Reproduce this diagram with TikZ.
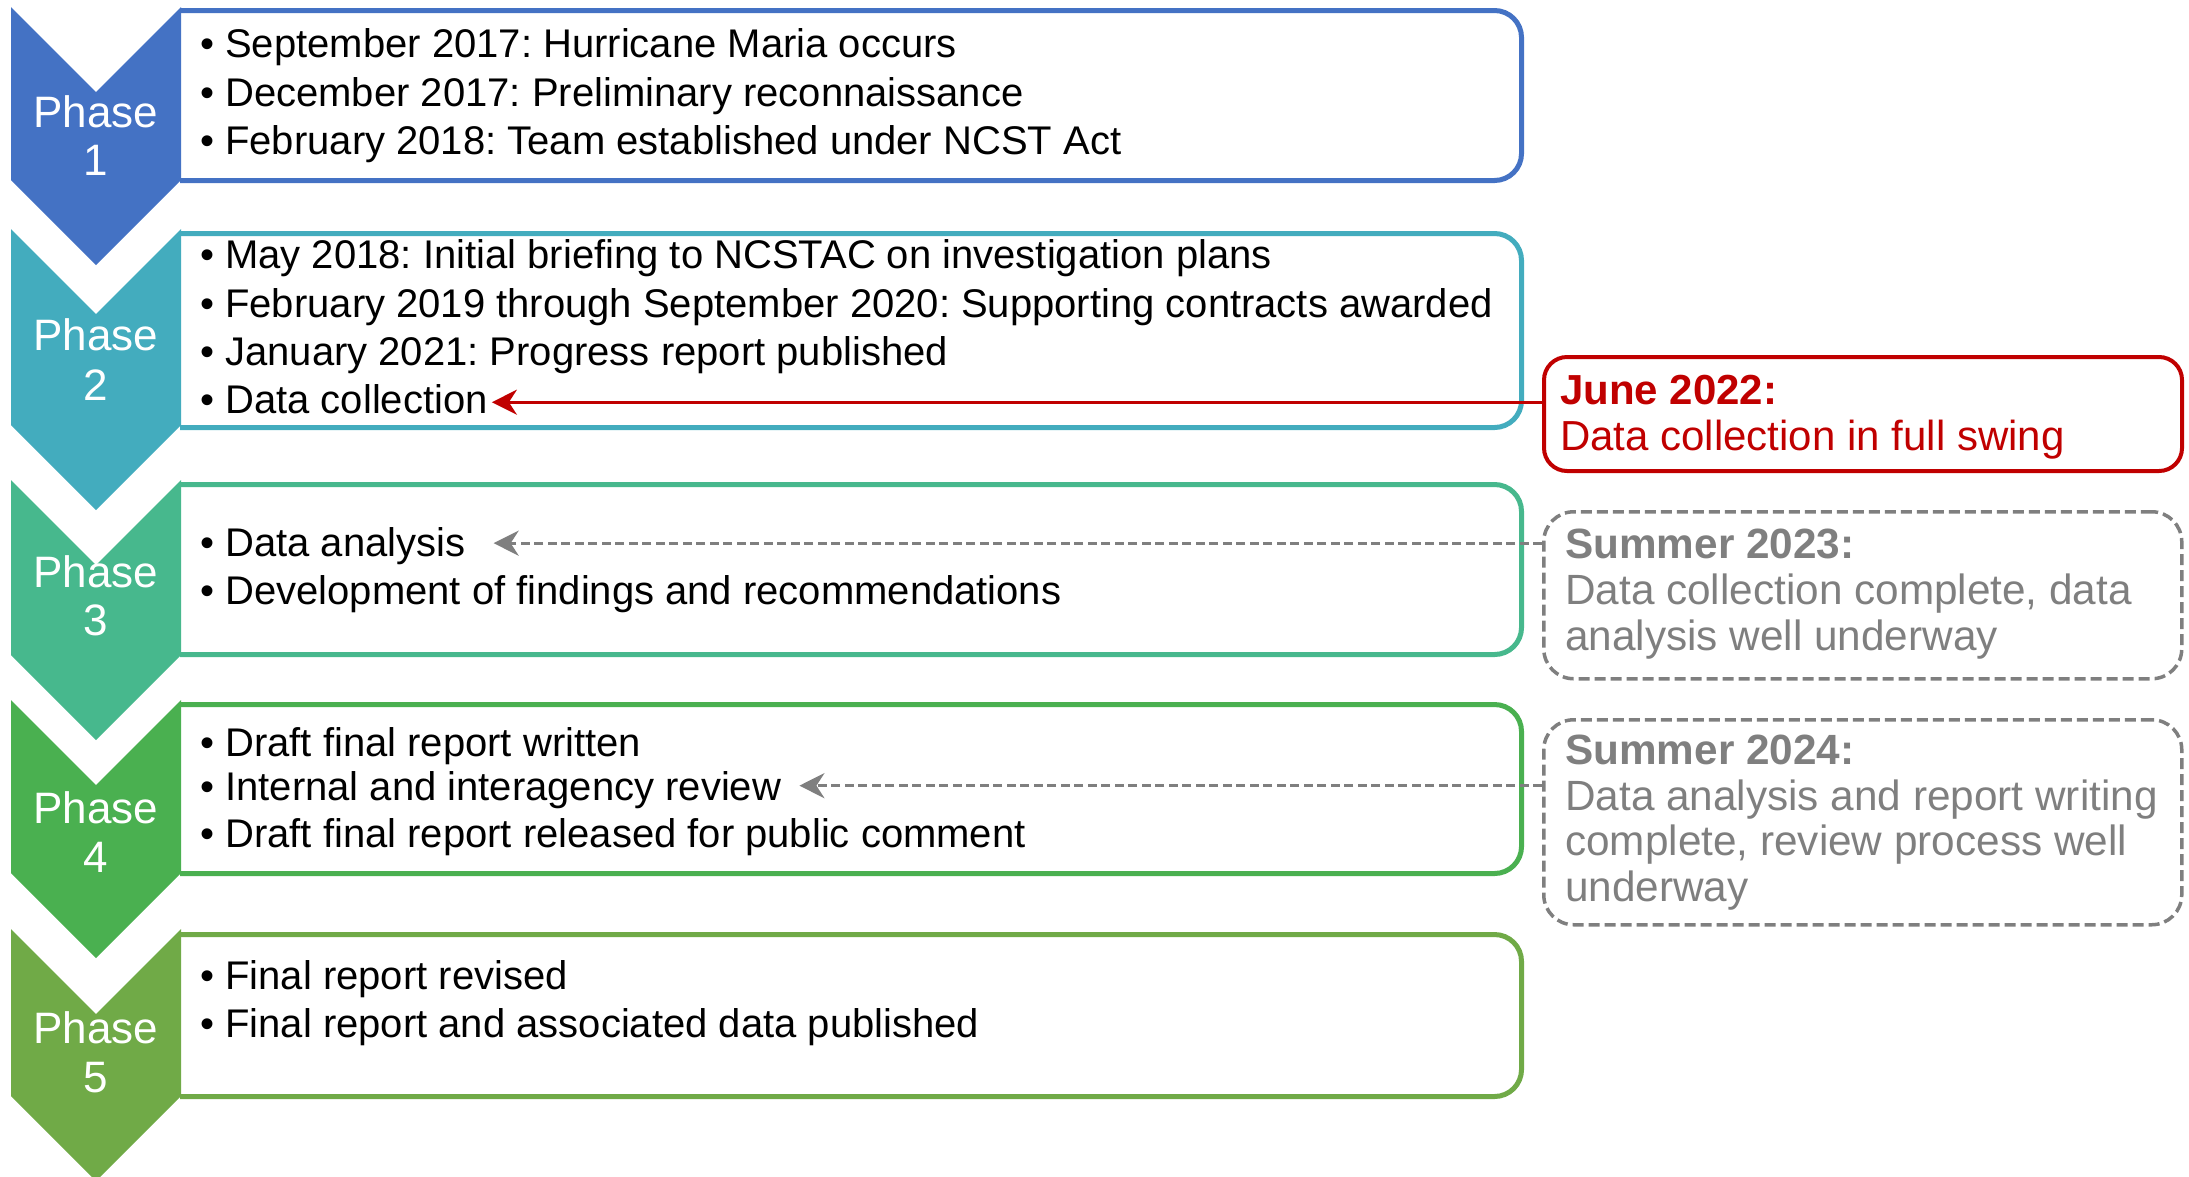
\documentclass[tikz,border=0pt]{standalone}
\usepackage{fontspec}
\setmainfont{Liberation Sans}
\usetikzlibrary{arrows.meta}
\frenchspacing
\definecolor{ph1}{RGB}{68,114,196}
\definecolor{ph2}{RGB}{67,172,190}
\definecolor{ph3}{RGB}{71,184,141}
\definecolor{ph4}{RGB}{74,176,80}
\definecolor{ph5}{RGB}{112,170,71}
\definecolor{redc}{RGB}{192,0,0}
\definecolor{grayc}{RGB}{127,127,127}
\tikzset{
  bodytext/.style={anchor=base west, inner sep=0pt, font=\fontsize{40bp}{48bp}\selectfont},
  phaselbl/.style={anchor=base, inner sep=0pt, text=white, font=\fontsize{44bp}{48bp}\selectfont},
  boxframe/.style={draw, line width=5bp, rounded corners=27bp, fill=white, inner sep=0pt, anchor=north west, minimum width=1369bp},
  redtext/.style={anchor=base west, inner sep=0pt, text=redc, font=\fontsize{42bp}{46bp}\selectfont},
  graytext/.style={anchor=base west, inner sep=0pt, text=grayc, font=\fontsize{42.3bp}{46bp}\selectfont},
  redbox/.style={draw=redc, line width=4bp, rounded corners=23bp, inner sep=0pt, anchor=north west, minimum width=638bp},
  graybox/.style={draw=grayc, line width=3.5bp, dash pattern=on 11bp off 5bp, rounded corners=30bp, inner sep=0pt, anchor=north west, minimum width=638bp},
  redarrow/.style={draw=redc, line width=3bp, -{Stealth[length=25bp,width=25bp,inset=8bp]}},
  grayarrow/.style={draw=grayc, line width=3.2bp, dash pattern=on 9bp off 4.5bp, -{Stealth[length=25bp,width=25bp,inset=8bp]}},
}
\begin{document}
\begin{tikzpicture}[x=1bp,y=-1bp]
\useasboundingbox (0,0) rectangle (2189,1176);
% boxes
\begin{scope}
\clip (180,0) rectangle (2189,1176);
\node[boxframe, draw=ph1, minimum height=170bp] (b1) at (150,8) {};
\node[boxframe, draw=ph2, minimum height=194bp] (b2) at (150,231) {};
\node[boxframe, draw=ph3, minimum height=170bp] (b3) at (150,482) {};
\node[boxframe, draw=ph4, minimum height=169bp] (b4) at (150,702) {};
\node[boxframe, draw=ph5, minimum height=162bp] (b5) at (150,932) {};
\end{scope}
% chevrons
\fill[ph1] (11,7) -- (96,92) -- (181,7) -- (181,180) -- (96,265) -- (11,180) -- cycle;
\fill[ph2] (11,229) -- (96,314) -- (181,229) -- (181,425) -- (96,510) -- (11,425) -- cycle;
\fill[ph3] (11,480) -- (96,565) -- (181,480) -- (181,655) -- (96,740) -- (11,655) -- cycle;
\fill[ph4] (11,700) -- (96,785) -- (181,700) -- (181,873) -- (96,958) -- (11,873) -- cycle;
\fill[ph5] (11,929) -- (96,1014) -- (181,929) -- (181,1096) -- (96,1181) -- (11,1096) -- cycle;
% phase labels
\node[phaselbl] (p1) at (96,127) {Phase};
\node[phaselbl] (p1n) at (96,175) {1};
\node[phaselbl] (p2) at (96,350) {Phase};
\node[phaselbl] (p2n) at (96,400) {2};
\node[phaselbl] (p3) at (96,587) {Phase};
\node[phaselbl] (p3n) at (96,635) {3};
\node[phaselbl] (p4) at (96,823) {Phase};
\node[phaselbl] (p4n) at (96,872) {4};
\node[phaselbl] (p5) at (96,1043) {Phase};
\node[phaselbl] (p5n) at (96,1092) {5};
% body text
\node[bodytext] (t11) at (200,57) {• September 2017: Hurricane Maria occurs};
\node[bodytext] (t12) at (200,106) {• December 2017: Preliminary reconnaissance};
\node[bodytext] (t13) at (200,154) {• February 2018: Team established under NCST Act};
\node[bodytext] (t21) at (200,268) {• May 2018: Initial briefing to NCSTAC on investigation plans};
\node[bodytext] (t22) at (200,317) {• February 2019 through September 2020: Supporting contracts awarded};
\node[bodytext] (t23) at (200,365) {• January 2021: Progress report published};
\node[bodytext] (t24) at (200,413) {• Data collection};
\node[bodytext] (t31) at (200,556) {• Data analysis};
\node[bodytext] (t32) at (200,604) {• Development of findings and recommendations};
\node[bodytext] (t41) at (200,756) {• Draft final report written};
\node[bodytext] (t42) at (200,800) {• Internal and interagency review};
\node[bodytext] (t43) at (200,847) {• Draft final report released for public comment};
\node[bodytext] (t51) at (200,989) {• Final report revised};
\node[bodytext] (t52) at (200,1037) {• Final report and associated data published};
% callouts
\node[redbox, minimum height=114bp] (june) at (1542,355) {};
\node[redtext, font=\fontsize{42bp}{46bp}\selectfont\bfseries] (june1) at (1560,404) {June 2022:};
\node[redtext] (june2) at (1560,450) {Data collection in full swing};
\node[graybox, minimum height=167bp] (s23) at (1542,510) {};
\node[graytext, font=\fontsize{42.3bp}{46bp}\selectfont\bfseries] (s23a) at (1565,558) {Summer 2023:};
\node[graytext] (s23b) at (1565,604) {Data collection complete, data};
\node[graytext] (s23c) at (1565,650) {analysis well underway};
\node[graybox, minimum height=205bp] (s24) at (1542,718) {};
\node[graytext, font=\fontsize{42.3bp}{46bp}\selectfont\bfseries] (s24a) at (1565,764) {Summer 2024:};
\node[graytext] (s24b) at (1565,810) {Data analysis and report writing};
\node[graytext] (s24c) at (1565,855) {complete, review process well};
\node[graytext] (s24d) at (1565,901) {underway};
% connectors
\coordinate (rt) at ([xshift=4bp,yshift=-3.5bp]t24.east);
\coordinate (g1) at ([xshift=28bp,yshift=2.5bp]t31.east);
\coordinate (g2) at ([xshift=18bp,yshift=4bp]t42.east);
\draw[redarrow] (june.west |- rt) -- (rt);
\draw[grayarrow] (s23.west |- g1) -- (g1);
\draw[grayarrow] (s24.west |- g2) -- (g2);
\end{tikzpicture}
\end{document}
